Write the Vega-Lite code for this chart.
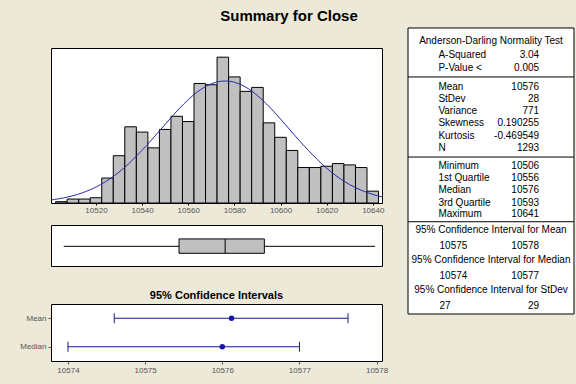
{
  "$schema": "https://vega.github.io/schema/vega-lite/v6.json",
  "background": "#ECE9D8",
  "padding": {"left": 17, "top": 9, "right": 5, "bottom": 9},
  "title": {"text": "Summary for Close", "anchor": "middle", "fontSize": 15, "fontWeight": "bold", "color": "#000000", "offset": 3, "dx": -7},
  "config": {
    "font": "Liberation Sans",
    "view": {"fill": "white", "stroke": "black", "strokeWidth": 1},
    "axis": {"grid": false, "domain": false}
  },
  "datasets": {
    "bins": [
      {"bin_start": 10502.5, "bin_end": 10507.5, "count": 1},
      {"bin_start": 10507.5, "bin_end": 10512.5, "count": 3},
      {"bin_start": 10512.5, "bin_end": 10517.5, "count": 3},
      {"bin_start": 10517.5, "bin_end": 10522.5, "count": 4},
      {"bin_start": 10522.5, "bin_end": 10527.5, "count": 19},
      {"bin_start": 10527.5, "bin_end": 10532.5, "count": 36},
      {"bin_start": 10532.5, "bin_end": 10537.5, "count": 58},
      {"bin_start": 10537.5, "bin_end": 10542.5, "count": 54},
      {"bin_start": 10542.5, "bin_end": 10547.5, "count": 42},
      {"bin_start": 10547.5, "bin_end": 10552.5, "count": 56},
      {"bin_start": 10552.5, "bin_end": 10557.5, "count": 66},
      {"bin_start": 10557.5, "bin_end": 10562.5, "count": 62},
      {"bin_start": 10562.5, "bin_end": 10567.5, "count": 91},
      {"bin_start": 10567.5, "bin_end": 10572.5, "count": 90},
      {"bin_start": 10572.5, "bin_end": 10577.5, "count": 111},
      {"bin_start": 10577.5, "bin_end": 10582.5, "count": 96},
      {"bin_start": 10582.5, "bin_end": 10587.5, "count": 85},
      {"bin_start": 10587.5, "bin_end": 10592.5, "count": 88},
      {"bin_start": 10592.5, "bin_end": 10597.5, "count": 61},
      {"bin_start": 10597.5, "bin_end": 10602.5, "count": 50},
      {"bin_start": 10602.5, "bin_end": 10607.5, "count": 40},
      {"bin_start": 10607.5, "bin_end": 10612.5, "count": 27},
      {"bin_start": 10612.5, "bin_end": 10617.5, "count": 27},
      {"bin_start": 10617.5, "bin_end": 10622.5, "count": 28},
      {"bin_start": 10622.5, "bin_end": 10627.5, "count": 30},
      {"bin_start": 10627.5, "bin_end": 10632.5, "count": 29},
      {"bin_start": 10632.5, "bin_end": 10637.5, "count": 27},
      {"bin_start": 10637.5, "bin_end": 10642.5, "count": 9}
    ],
    "curve": [
      {"x": 10500.5, "fit": 2.30}, {"x": 10502, "fit": 2.67}, {"x": 10506, "fit": 3.87},
      {"x": 10510, "fit": 5.51}, {"x": 10514, "fit": 7.68}, {"x": 10518, "fit": 10.48},
      {"x": 10522, "fit": 14.02}, {"x": 10526, "fit": 18.36}, {"x": 10530, "fit": 23.55},
      {"x": 10534, "fit": 29.59}, {"x": 10538, "fit": 36.61}, {"x": 10542, "fit": 43.90},
      {"x": 10546, "fit": 51.82}, {"x": 10550, "fit": 59.93}, {"x": 10554, "fit": 67.87},
      {"x": 10558, "fit": 75.29}, {"x": 10562, "fit": 81.81}, {"x": 10566, "fit": 87.07},
      {"x": 10570, "fit": 90.76}, {"x": 10574, "fit": 92.66}, {"x": 10576, "fit": 92.90},
      {"x": 10578, "fit": 92.66}, {"x": 10582, "fit": 90.76}, {"x": 10586, "fit": 87.07},
      {"x": 10590, "fit": 81.81}, {"x": 10594, "fit": 75.29}, {"x": 10598, "fit": 67.87},
      {"x": 10602, "fit": 59.93}, {"x": 10606, "fit": 51.82}, {"x": 10610, "fit": 43.90},
      {"x": 10614, "fit": 36.61}, {"x": 10618, "fit": 29.59}, {"x": 10622, "fit": 23.55},
      {"x": 10626, "fit": 18.36}, {"x": 10630, "fit": 14.02}, {"x": 10634, "fit": 10.48},
      {"x": 10638, "fit": 7.68}, {"x": 10642, "fit": 5.51}, {"x": 10644, "fit": 4.63}
    ],
    "box": [
      {"min": 10506, "q1": 10556, "median": 10576, "q3": 10593, "max": 10641}
    ],
    "ci": [
      {"stat": "Mean", "est": 10576.12, "lo": 10574.6, "hi": 10577.63},
      {"stat": "Median", "est": 10576, "lo": 10574, "hi": 10577}
    ],
    "seps": [{"line": 3.98}, {"line": 10.49}, {"line": 15.75}],
    "table": [
      {"kind": "header", "text": "Anderson-Darling Normality Test", "line": 1.05},
      {"kind": "label", "text": "A-Squared", "line": 2.22},
      {"kind": "value", "text": "3.04", "line": 2.22},
      {"kind": "label", "text": "P-Value <", "line": 3.23},
      {"kind": "value", "text": "0.005", "line": 3.23},
      {"kind": "label", "text": "Mean", "line": 4.77},
      {"kind": "value", "text": "10576", "line": 4.77},
      {"kind": "label", "text": "StDev", "line": 5.75},
      {"kind": "value", "text": "28", "line": 5.75},
      {"kind": "label", "text": "Variance", "line": 6.75},
      {"kind": "value", "text": "771", "line": 6.75},
      {"kind": "label", "text": "Skewness", "line": 7.75},
      {"kind": "value", "text": "0.190255", "line": 7.75},
      {"kind": "label", "text": "Kurtosis", "line": 8.78},
      {"kind": "value", "text": "-0.469549", "line": 8.78},
      {"kind": "label", "text": "N", "line": 9.73},
      {"kind": "value", "text": "1293", "line": 9.73},
      {"kind": "label", "text": "Minimum", "line": 11.22},
      {"kind": "value", "text": "10506", "line": 11.22},
      {"kind": "label", "text": "1st Quartile", "line": 12.19},
      {"kind": "value", "text": "10556", "line": 12.19},
      {"kind": "label", "text": "Median", "line": 13.2},
      {"kind": "value", "text": "10576", "line": 13.2},
      {"kind": "label", "text": "3rd Quartile", "line": 14.21},
      {"kind": "value", "text": "10593", "line": 14.21},
      {"kind": "label", "text": "Maximum", "line": 15.15},
      {"kind": "value", "text": "10641", "line": 15.15},
      {"kind": "header", "text": "95% Confidence Interval for Mean", "line": 16.42},
      {"kind": "lo", "text": "10575", "line": 17.72},
      {"kind": "hi", "text": "10578", "line": 17.72},
      {"kind": "header", "text": "95% Confidence Interval for Median", "line": 18.9},
      {"kind": "lo", "text": "10574", "line": 20.16},
      {"kind": "hi", "text": "10577", "line": 20.16},
      {"kind": "header", "text": "95% Confidence Interval for StDev", "line": 21.33},
      {"kind": "lo", "text": "27", "line": 22.6},
      {"kind": "hi", "text": "29", "line": 22.6}
    ]
  },
  "spacing": 18,
  "hconcat": [
    {
      "spacing": 0,
      "vconcat": [
        {
          "width": 331,
          "height": 155,
          "layer": [
            {
              "data": {"name": "bins"},
              "mark": {"type": "rect", "fill": "#C0C0C0", "stroke": "black", "strokeWidth": 1},
              "encoding": {
                "x": {"field": "bin_start", "type": "quantitative",
                  "scale": {"domain": [10500.5, 10644], "nice": false, "zero": false},
                  "axis": {"values": [10520, 10540, 10560, 10580, 10600, 10620, 10640], "format": "d",
                    "tickSize": 2, "tickColor": "#000000", "labelFontSize": 8, "labelColor": "#555555",
                    "labelPadding": 1, "labelFlush": false, "title": null, "minExtent": 20, "maxExtent": 20}},
                "x2": {"field": "bin_end"},
                "y": {"field": "count", "type": "quantitative",
                  "scale": {"domain": [0, 118], "nice": false},
                  "axis": {"labels": false, "ticks": false, "domain": false, "title": null, "minExtent": 33, "maxExtent": 33}},
                "y2": {"datum": 0}
              }
            },
            {
              "data": {"name": "curve"},
              "mark": {"type": "line", "color": "#2A2AA8", "strokeWidth": 1, "interpolate": "monotone"},
              "encoding": {
                "x": {"field": "x", "type": "quantitative"},
                "y": {"field": "fit", "type": "quantitative"}
              }
            }
          ]
        },
        {
          "width": 331,
          "height": 41,
          "data": {"name": "box"},
          "layer": [
            {
              "mark": {"type": "rule", "color": "black", "strokeWidth": 1},
              "encoding": {
                "x": {"field": "min", "type": "quantitative",
                  "scale": {"domain": [10500.5, 10644], "nice": false, "zero": false},
                  "axis": {"labels": false, "ticks": false, "domain": false, "title": null, "minExtent": 22, "maxExtent": 22}},
                "x2": {"field": "max"},
                "y": {"datum": 0.48, "type": "quantitative",
                  "scale": {"domain": [0, 1], "nice": false},
                  "axis": {"labels": false, "ticks": false, "domain": false, "title": null, "minExtent": 33, "maxExtent": 33}}
              }
            },
            {
              "mark": {"type": "rect", "fill": "#C0C0C0", "stroke": "black", "strokeWidth": 1},
              "encoding": {
                "x": {"field": "q1", "type": "quantitative"},
                "x2": {"field": "q3"},
                "y": {"datum": 0.31, "type": "quantitative"},
                "y2": {"datum": 0.66}
              }
            },
            {
              "mark": {"type": "rule", "color": "black", "strokeWidth": 1},
              "encoding": {
                "x": {"field": "median", "type": "quantitative"},
                "y": {"datum": 0.31, "type": "quantitative"},
                "y2": {"datum": 0.66}
              }
            }
          ]
        },
        {
          "width": 331,
          "height": 57,
          "title": {"text": "95% Confidence Intervals", "fontSize": 11, "fontWeight": "bold", "offset": 3, "anchor": "middle", "color": "#000000"},
          "data": {"name": "ci"},
          "encoding": {
            "y": {"field": "stat", "type": "nominal", "sort": ["Mean", "Median"],
              "scale": {"type": "point", "padding": 0.5},
              "axis": {"title": null, "domain": false, "tickSize": 3, "tickColor": "#555555", "labelFontSize": 8,
                "labelColor": "#555555", "labelPadding": 2, "minExtent": 33, "maxExtent": 33}}
          },
          "layer": [
            {
              "mark": {"type": "rule", "color": "#1A1A8C", "strokeWidth": 1},
              "encoding": {
                "x": {"field": "lo", "type": "quantitative",
                  "scale": {"domain": [10573.78, 10578.07], "nice": false, "zero": false},
                  "axis": {"values": [10574, 10575, 10576, 10577, 10578], "format": "d", "tickSize": 3,
                    "tickColor": "#555555", "labelFontSize": 8, "labelColor": "#555555", "labelPadding": 2,
                    "labelFlush": false, "title": null}},
                "x2": {"field": "hi"}
              }
            },
            {
              "mark": {"type": "tick", "color": "#1A1A8C", "orient": "vertical", "size": 10, "thickness": 1, "opacity": 1},
              "encoding": {"x": {"field": "lo", "type": "quantitative"}}
            },
            {
              "mark": {"type": "tick", "color": "#1A1A8C", "orient": "vertical", "size": 10, "thickness": 1, "opacity": 1},
              "encoding": {"x": {"field": "hi", "type": "quantitative"}}
            },
            {
              "mark": {"type": "point", "filled": true, "color": "#1515B0", "size": 30, "opacity": 1},
              "encoding": {"x": {"field": "est", "type": "quantitative"}}
            }
          ]
        }
      ]
    },
    {
      "width": 166,
      "height": 266,
      "view": {"fill": null, "stroke": null},
      "layer": [
        {
          "data": {"values": [{}]},
          "mark": {"type": "rect", "fill": "white", "stroke": "black", "strokeWidth": 1},
          "encoding": {
            "y": {"datum": 0, "type": "quantitative",
              "scale": {"domain": [1.626, 23.25], "reverse": true, "nice": false, "zero": false}, "axis": null},
            "y2": {"datum": 23.25},
            "x": {"datum": 0, "type": "quantitative", "scale": {"domain": [0, 1], "nice": false}, "axis": null},
            "x2": {"datum": 1}
          }
        },
        {
          "data": {"name": "seps"},
          "mark": {"type": "rule", "color": "black", "strokeWidth": 1},
          "encoding": {
            "y": {"field": "line", "type": "quantitative"},
            "x": {"datum": 0, "type": "quantitative"},
            "x2": {"datum": 1}
          }
        },
        {
          "data": {"name": "table"},
          "transform": [{"filter": "datum.kind === 'header'"}],
          "mark": {"type": "text", "align": "center", "baseline": "middle", "fontSize": 10, "color": "#000000"},
          "encoding": {
            "x": {"datum": 0.5, "type": "quantitative"},
            "y": {"field": "line", "type": "quantitative"},
            "text": {"field": "text"}
          }
        },
        {
          "data": {"name": "table"},
          "transform": [{"filter": "datum.kind === 'label'"}],
          "mark": {"type": "text", "align": "left", "baseline": "middle", "fontSize": 10, "color": "#000000"},
          "encoding": {
            "x": {"datum": 0.183, "type": "quantitative"},
            "y": {"field": "line", "type": "quantitative"},
            "text": {"field": "text"}
          }
        },
        {
          "data": {"name": "table"},
          "transform": [{"filter": "datum.kind === 'value' || datum.kind === 'hi'"}],
          "mark": {"type": "text", "align": "right", "baseline": "middle", "fontSize": 10, "color": "#000000"},
          "encoding": {
            "x": {"datum": 0.79, "type": "quantitative"},
            "y": {"field": "line", "type": "quantitative"},
            "text": {"field": "text"}
          }
        },
        {
          "data": {"name": "table"},
          "transform": [{"filter": "datum.kind === 'lo'"}],
          "mark": {"type": "text", "align": "left", "baseline": "middle", "fontSize": 10, "color": "#000000"},
          "encoding": {
            "x": {"datum": 0.19, "type": "quantitative"},
            "y": {"field": "line", "type": "quantitative"},
            "text": {"field": "text"}
          }
        }
      ]
    }
  ]
}
